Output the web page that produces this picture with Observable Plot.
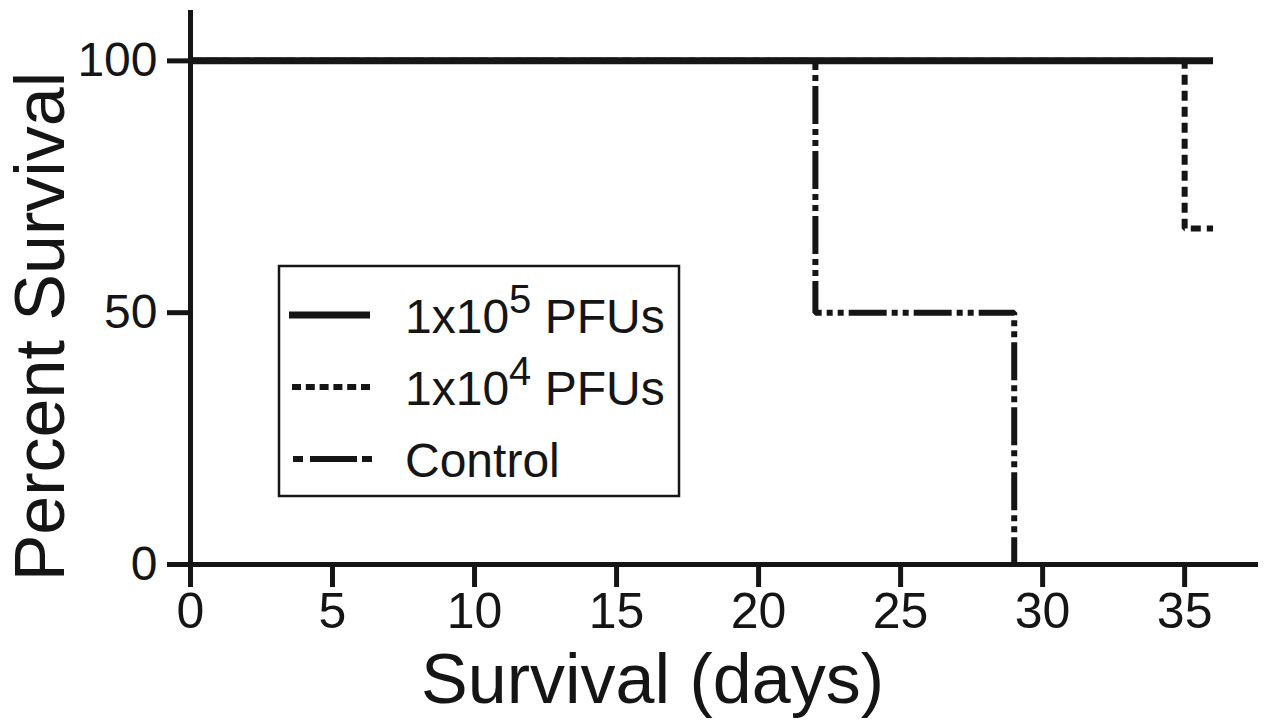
<!DOCTYPE html>
<html>
<head>
<meta charset="utf-8">
<script src="https://cdn.jsdelivr.net/npm/d3@7"></script>
<script src="https://cdn.jsdelivr.net/npm/@observablehq/plot@0.6"></script>
<style>
  html, body { margin: 0; padding: 0; background: #fff; }
  #wrap { position: relative; width: 1269px; height: 720px; font-family: "Liberation Sans", Arial, sans-serif; }
</style>
</head>
<body>
<div id="wrap"></div>
<script>
// ---- data ----
const seriesNames = ["1x10^5 PFUs", "1x10^4 PFUs", "Control"];
const days1e5 = [0, 36];
const surv1e5 = [100, 100];
const days1e4 = [0, 35, 36];
const surv1e4 = [100, 66.7, 66.7];
const daysCtrl = [0, 22, 29];
const survCtrl = [100, 50, 0];
const xTicks = [0, 5, 10, 15, 20, 25, 30, 35];
const yTicks = [0, 50, 100];
const xTitle = "Survival (days)";
const yTitle = "Percent Survival";

const toRows = (xs, ys) => xs.map((d, i) => ({day: d, surv: ys[i]}));
const s1 = toRows(days1e5, surv1e5);
const s2 = toRows(days1e4, surv1e4);
const s3 = toRows(daysCtrl, survCtrl);

const ink = "#151515";
const dotted = "10,6";
const dashDotDot = "38,5,6,5,6,5";

const chart = Plot.plot({
  width: 1269,
  height: 720,
  marginLeft: 190,
  marginRight: 11,
  marginTop: 10,
  marginBottom: 156,
  style: {fontFamily: "'Liberation Sans', Arial, sans-serif", color: ink, background: "#fff"},
  x: {domain: [0, 37.6]},
  y: {domain: [0, 110]},
  marks: [
    Plot.line(s3, {x: "day", y: "surv", curve: "step-after", stroke: ink, strokeWidth: 6, strokeDasharray: dashDotDot, strokeLinecap: "butt", strokeLinejoin: "miter"}),
    Plot.line(s2, {x: "day", y: "surv", curve: "step-after", stroke: ink, strokeWidth: 6, strokeDasharray: dotted, strokeLinecap: "butt", strokeLinejoin: "miter"}),
    Plot.line(s1, {x: "day", y: "surv", curve: "step-after", stroke: ink, strokeWidth: 7, strokeLinecap: "butt"}),
    Plot.ruleY([0], {stroke: ink, strokeWidth: 5}),
    Plot.ruleX([0], {stroke: ink, strokeWidth: 5}),
    Plot.axisX(xTicks, {tickSize: 23, tickPadding: 5, strokeWidth: 5, stroke: ink, fill: ink, fontSize: 50, label: null, tickFormat: d => String(d)}),
    Plot.axisY(yTicks, {tickSize: 23, tickPadding: 10, strokeWidth: 5, stroke: ink, fill: ink, fontSize: 48, label: null, tickFormat: d => String(d)}),
    Plot.text([xTitle], {frameAnchor: "bottom", text: d => d, textAnchor: "middle", dx: -72, dy: 116, fontSize: 70, fill: ink, lineAnchor: "middle"}),
    Plot.text([yTitle], {frameAnchor: "left", text: d => d, textAnchor: "middle", rotate: -90, dx: -149, dy: 39, fontSize: 70, fill: ink, lineAnchor: "middle"})
  ]
});
const wrap = document.getElementById("wrap");
wrap.appendChild(chart);

// ---- legend overlay ----
const ns = "http://www.w3.org/2000/svg";
const lg = document.createElementNS(ns, "svg");
lg.setAttribute("width", 1269);
lg.setAttribute("height", 720);
lg.style.position = "absolute"; lg.style.left = "0px"; lg.style.top = "0px";
lg.style.fontFamily = "'Liberation Sans', Arial, sans-serif";
const box = document.createElementNS(ns, "rect");
box.setAttribute("x", 279); box.setAttribute("y", 266);
box.setAttribute("width", 400); box.setAttribute("height", 230);
box.setAttribute("fill", "#fff"); box.setAttribute("stroke", ink); box.setAttribute("stroke-width", 2.5);
lg.appendChild(box);
const dashes = [null, "9,4.8", "10,7,47,5,10,100"];
const widths = [7, 6, 6];
const x1s = [289, 292, 293];
const x2s = [370, 370, 372];
const rowY = [315, 387, 459];
const baseY = [333, 405, 477];
seriesNames.forEach((name, i) => {
  const ln = document.createElementNS(ns, "line");
  ln.setAttribute("x1", x1s[i]); ln.setAttribute("x2", x2s[i]);
  ln.setAttribute("y1", rowY[i]); ln.setAttribute("y2", rowY[i]);
  ln.setAttribute("stroke", ink); ln.setAttribute("stroke-width", widths[i]);
  if (dashes[i]) ln.setAttribute("stroke-dasharray", dashes[i]);
  lg.appendChild(ln);
  const t = document.createElementNS(ns, "text");
  t.setAttribute("x", 405); t.setAttribute("y", baseY[i]);
  t.setAttribute("font-size", 48); t.setAttribute("fill", ink);
  const m = name.match(/^(.*)\^(\S+)(.*)$/);
  if (m) {
    const a = document.createElementNS(ns, "tspan"); a.textContent = m[1];
    const b = document.createElementNS(ns, "tspan"); b.textContent = m[2];
    b.setAttribute("dy", -20); b.setAttribute("font-size", 40);
    const c = document.createElementNS(ns, "tspan"); c.textContent = m[3];
    c.setAttribute("dy", 20);
    t.appendChild(a); t.appendChild(b); t.appendChild(c);
  } else {
    t.textContent = name;
  }
  lg.appendChild(t);
});
wrap.appendChild(lg);
</script>
</body>
</html>
